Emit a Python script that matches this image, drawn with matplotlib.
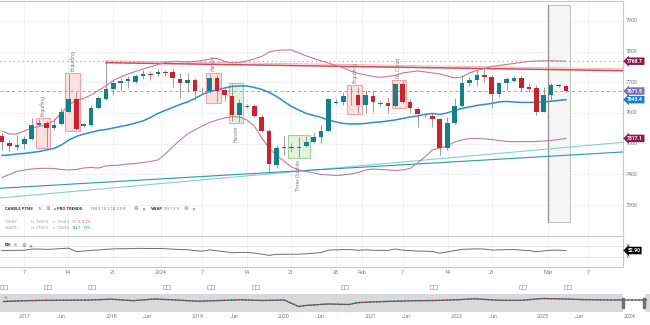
import matplotlib
matplotlib.use("Agg")
import matplotlib.pyplot as plt
from matplotlib.patches import Rectangle

W, H, DPI = 650, 325, 100

# ---- daily candles ----
opens = [7526.0, 7503.2, 7489.1, 7498.9, 7515.3, 7560.9, 7567.4, 7551.1, 7564.2, 7604.3,
         7645.7, 7557.7, 7560.9, 7616.3, 7645.7, 7678.3, 7697.8, 7704.4, 7702.1, 7720.7,
         7727.2, 7726.2, 7732.7, 7732.7, 7710.9, 7696.9, 7706.0, 7670.5, 7671.1, 7715.1,
         7673.4, 7655.5, 7591.9, 7620.6, 7622.9, 7586.0, 7542.3, 7430.5, 7484.9, 7488.2,
         7485.9, 7492.4, 7506.5, 7520.8, 7542.3, 7631.7, 7636.9, 7657.1, 7658.7, 7626.1,
         7655.5, 7629.4, 7631.7, 7623.8, 7693.6, 7634.9, 7612.1, 7592.5, 7591.2, 7579.5,
         7484.9, 7566.5, 7622.9, 7696.9, 7707.6, 7723.0, 7718.4, 7661.0, 7696.9, 7705.3,
         7715.1, 7685.8, 7680.6, 7604.3, 7658.7, 7692.0, 7688.8]
highs = [7534.8, 7512.0, 7528.3, 7525.0, 7583.7, 7580.5, 7574.0, 7583.7, 7616.3, 7727.2,
         7669.5, 7567.4, 7626.1, 7655.5, 7768.0, 7707.6, 7714.1, 7720.7, 7727.2, 7740.2,
         7737.0, 7743.5, 7740.2, 7743.5, 7730.4, 7730.4, 7714.1, 7685.8, 7728.0, 7723.9,
         7681.6, 7694.0, 7645.7, 7629.4, 7629.4, 7593.5, 7547.9, 7495.7, 7525.0, 7502.2,
         7521.8, 7524.0, 7538.1, 7560.9, 7648.9, 7645.7, 7668.5, 7688.0, 7684.8, 7675.0,
         7675.0, 7639.2, 7648.9, 7697.8, 7704.4, 7645.7, 7619.6, 7600.1, 7600.1, 7583.7,
         7587.0, 7648.9, 7723.9, 7717.4, 7740.2, 7751.0, 7723.9, 7701.1, 7718.4, 7720.7,
         7720.7, 7697.8, 7691.3, 7685.8, 7697.8, 7694.0, 7689.8]
lows = [7479.4, 7476.1, 7479.4, 7482.6, 7512.0, 7557.7, 7490.0, 7544.6, 7560.9, 7603.3,
        7544.6, 7554.4, 7557.7, 7613.1, 7642.4, 7658.7, 7675.0, 7681.6, 7697.8, 7710.9,
        7707.6, 7720.7, 7720.7, 7684.8, 7648.9, 7668.5, 7642.4, 7658.7, 7665.2, 7636.0,
        7639.2, 7574.0, 7570.7, 7616.3, 7587.0, 7538.1, 7403.0, 7420.7, 7463.1, 7472.8,
        7456.6, 7489.1, 7502.2, 7502.2, 7541.3, 7629.4, 7626.1, 7626.1, 7600.1, 7600.1,
        7604.3, 7622.9, 7600.1, 7619.6, 7632.6, 7600.1, 7554.4, 7587.0, 7554.4, 7463.1,
        7479.4, 7564.2, 7619.6, 7689.0, 7689.0, 7702.1, 7617.3, 7652.2, 7675.0, 7701.1,
        7671.8, 7666.9, 7593.5, 7604.3, 7642.4, 7686.0, 7668.0]
closes = [7505.5, 7492.4, 7495.7, 7515.3, 7560.9, 7567.4, 7551.1, 7560.9, 7604.3, 7645.7,
          7547.9, 7564.2, 7616.3, 7648.9, 7678.3, 7697.8, 7704.4, 7710.9, 7720.7, 7727.2,
          7724.6, 7734.7, 7730.4, 7712.5, 7696.9, 7706.0, 7671.8, 7672.0, 7715.1, 7671.8,
          7658.7, 7591.9, 7631.0, 7623.8, 7588.6, 7542.3, 7433.8, 7484.9, 7488.2, 7485.9,
          7488.2, 7506.5, 7522.7, 7542.3, 7644.7, 7636.9, 7655.5, 7658.7, 7626.1, 7658.7,
          7634.9, 7633.6, 7623.8, 7693.6, 7634.9, 7615.4, 7596.8, 7594.5, 7579.5, 7484.9,
          7566.5, 7622.9, 7698.8, 7707.6, 7723.0, 7718.4, 7661.0, 7696.9, 7710.9, 7715.1,
          7682.5, 7678.3, 7604.3, 7658.7, 7690.5, 7688.8, 7671.5]

# ---- bands (upper / middle / lower) ----
band_upper = [7541.3, 7531.4, 7531.4, 7541.3, 7551.1, 7556.0, 7562.6, 7574.0, 7600.1, 7626.1,
              7640.8, 7647.3, 7658.7, 7673.4, 7688.1, 7706.0, 7717.4, 7727.2, 7735.3, 7743.5,
              7750.0, 7758.2, 7764.7, 7767.9, 7767.9, 7766.3, 7767.9, 7771.2, 7776.1, 7777.7,
              7767.9, 7763.0, 7764.7, 7769.6, 7776.1, 7784.3, 7798.9, 7803.9, 7805.5, 7805.5,
              7795.7, 7785.9, 7777.7, 7769.6, 7763.0, 7754.9, 7746.8, 7737.0, 7728.8, 7723.9,
              7719.0, 7716.4, 7719.0, 7722.3, 7730.4, 7733.7, 7737.0, 7733.7, 7730.4, 7727.2,
              7720.7, 7714.1, 7717.4, 7730.4, 7738.6, 7745.1, 7751.6, 7754.9, 7758.2, 7761.4,
              7764.7, 7767.9, 7769.6, 7770.2, 7770.2, 7769.6, 7768.7]
band_mid = [7461.5, 7463.1, 7466.4, 7468.0, 7471.3, 7474.5, 7479.4, 7484.3, 7495.7, 7512.0,
            7523.4, 7531.4, 7536.5, 7542.9, 7546.2, 7551.1, 7556.0, 7560.9, 7567.4, 7574.0,
            7585.4, 7598.4, 7608.2, 7618.0, 7627.8, 7635.9, 7647.3, 7660.4, 7670.2, 7675.0,
            7681.6, 7686.4, 7688.1, 7688.1, 7683.2, 7676.7, 7666.9, 7653.9, 7637.6, 7621.3,
            7609.9, 7598.4, 7591.9, 7585.4, 7577.2, 7570.7, 7565.8, 7564.2, 7564.2, 7565.8,
            7569.1, 7570.7, 7574.0, 7577.2, 7582.1, 7587.0, 7590.3, 7595.2, 7598.4, 7595.2,
            7600.1, 7608.2, 7614.8, 7619.6, 7624.5, 7627.8, 7631.0, 7635.9, 7637.6, 7635.9,
            7634.3, 7634.3, 7634.3, 7635.9, 7638.2, 7640.8, 7643.4]
band_lower = [7389.7, 7399.5, 7409.3, 7414.2, 7417.4, 7419.1, 7419.7, 7419.1, 7415.8, 7414.2,
              7415.8, 7420.7, 7422.3, 7420.7, 7427.2, 7428.9, 7430.5, 7433.8, 7435.4, 7438.7,
              7441.9, 7446.8, 7466.4, 7489.1, 7512.0, 7531.4, 7544.6, 7557.7, 7569.1, 7577.2,
              7583.7, 7588.0, 7587.0, 7577.2, 7557.7, 7518.5, 7485.9, 7461.5, 7443.5, 7424.0,
              7414.2, 7409.3, 7404.4, 7399.5, 7397.9, 7396.3, 7397.9, 7401.2, 7406.0, 7414.2,
              7417.4, 7415.8, 7414.2, 7412.6, 7414.2, 7419.1, 7437.0, 7456.6, 7479.4, 7485.9,
              7492.4, 7505.5, 7512.0, 7516.9, 7516.9, 7515.3, 7513.6, 7510.4, 7507.1, 7506.5,
              7506.5, 7506.5, 7507.1, 7508.7, 7510.4, 7513.6, 7517.1]

# ---- RSI 14 ----
rsi = [52.8, 53.1, 53.4, 54.1, 57.6, 57.9, 56.9, 57.9, 59.7, 61.0,
       49.3, 51.0, 53.4, 54.8, 56.9, 58.6, 59.0, 59.3, 60.0, 60.3,
       59.7, 60.0, 59.3, 57.6, 55.9, 55.9, 52.4, 50.7, 55.2, 51.7,
       49.0, 44.8, 46.6, 46.2, 44.1, 40.3, 36.2, 39.7, 40.0, 40.0,
       40.3, 41.7, 43.8, 45.9, 54.1, 55.2, 56.2, 55.9, 53.8, 55.2,
       53.8, 53.4, 53.1, 57.9, 54.1, 52.8, 51.0, 50.7, 49.3, 43.8,
       48.3, 52.4, 56.9, 57.9, 58.6, 57.9, 54.5, 55.2, 55.9, 56.2,
       54.1, 53.1, 48.3, 51.7, 53.8, 54.1, 52.9]

# ---- axis ticks ----
tick_pos = [2.97, 8.9, 14.96, 21.4, 26.95, 33.0, 38.9, 45.0, 48.5, 54.0, 60.1, 66.0, 73.6, 79.0]
tick_lbl = ['7', '14', '21', '2024', '7', '14', '21', '28', 'Feb', '7', '14', '21', 'Mar', '7']
price_ticks = [7300, 7400, 7500, 7600, 7700, 7800, 7900]

# ---- candle patterns: (first, last, name, above?, bullish?) ----
patterns = [(5, 6, 'Engulfing', True, False),
            (9, 10, 'Engulfing', True, False),
            (28, 29, 'Harami', True, False),
            (31, 32, 'Harami', False, True),
            (39, 41, 'Three Outside', False, True),
            (47, 48, 'Engulfing', True, False),
            (53, 54, 'Dk Cloud', True, False)]

# ---- trend lines: (x0, y0, x1, y1) ----
res_line = (14.0, 7768.0, 83.69, 7741.9)
sup_line_a = (-0.27, 7322.9, 83.69, 7504.5)
sup_line_b = (-0.27, 7354.5, 83.69, 7472.9)
upper_level = 7768.7
last_price = 7671.5

# ---- overview (navigator) ----
nav_year = [2016.75, 2017.0, 2017.25, 2017.5, 2017.75, 2018.0, 2018.25, 2018.5, 2018.75,
            2019.0, 2019.25, 2019.5, 2019.75, 2020.0, 2020.17, 2020.25, 2020.5, 2020.75,
            2020.85, 2021.0, 2021.25, 2021.5, 2021.75, 2022.0, 2022.2, 2022.5, 2022.75,
            2023.0, 2023.25, 2023.5, 2023.75, 2024.0, 2024.2]
nav_level = [6719, 6989, 7124, 7158, 7225, 7495, 6989, 7563, 7225,
             6820, 7056, 7293, 7056, 7225, 5031, 5369, 5875, 5706,
             6314, 6550, 6786, 6989, 7056, 7293, 7630, 7124, 7124,
             7731, 7563, 7326, 7225, 7225, 7225]
nav_ticks = [2017, 2017.42, 2018, 2018.42, 2019, 2019.42, 2020, 2020.42, 2021, 2021.42,
             2022, 2022.42, 2023, 2023.42, 2024]
nav_lbl = ['2017', 'Jun', '2018', 'Jun', '2019', 'Jun', '2020', 'Jun', '2021', 'Jun',
           '2022', 'Jun', '2023', 'Jun', '2024']

TEAL = '#13808a'
RED = '#c9232d'
WICK = '#8a8a8a'
BAND = '#c27a9e'
MID = '#2b8fd3'
GRID = '#efefef'
TXT = '#7a7a7a'
FS = 3.9

plt.rcParams['font.family'] = ['Roboto', 'DejaVu Sans']

fig = plt.figure(figsize=(W / DPI, H / DPI), dpi=DPI)
fig.patch.set_facecolor('white')


def fx(x):
    return x / W


def fy(y):
    return 1 - y / H


def ptext(x, y, s, **kw):
    kw.setdefault('fontsize', FS)
    kw.setdefault('color', TXT)
    kw.setdefault('va', 'center')
    kw.setdefault('ha', 'left')
    fig.text(fx(x), fy(y), s, **kw)


XLIM = (-0.27, 83.69)

# ================= main price panel =================
ax = fig.add_axes([0, fy(236), fx(623), (236 - 1) / H])
ax.set_xlim(*XLIM)
ax.set_ylim(7199, 7965)
for s in ['left', 'bottom']:
    ax.spines[s].set_visible(False)
for s in ['top', 'right']:
    ax.spines[s].set_color('#c8c8c8')
    ax.spines[s].set_linewidth(0.8)
ax.set_xticks([])
ax.set_yticks([])
for p in price_ticks:
    ax.axhline(p, color=GRID, lw=0.6, zorder=0)
for t in tick_pos:
    ax.axvline(t, color=GRID, lw=0.6, zorder=0)

# highlighted range on the right
x_hl0, x_hl1 = 73.55, 76.55
ax.add_patch(Rectangle((x_hl0, 7245.6), x_hl1 - x_hl0, 7953.2 - 7245.6,
                       facecolor='#f5f5f5', edgecolor='#b5b5b5', lw=0.6, zorder=0.5))
ax.plot([x_hl0, x_hl0], [7245.6, 7953.2], color='#8f8f8f', lw=0.9, zorder=0.6)

# candle pattern boxes and names
for i0, i1, name, above, bull in patterns:
    top = max(highs[i0:i1 + 1]) + 3
    bot = min(lows[i0:i1 + 1]) - 3
    fc, ec = ('#e3f2dc', '#9fd39a') if bull else ('#fbe1e1', '#f2a4a4')
    ax.add_patch(Rectangle((i0 - 0.47, bot), (i1 - i0) + 0.94, top - bot,
                           facecolor=fc, edgecolor=ec, lw=0.8, zorder=1))
    xc = (i0 + i1) / 2
    if above:
        ax.text(xc, top + 6, name, rotation=90, fontsize=3.6, color='#888888',
                ha='center', va='bottom', zorder=5)
    else:
        ax.text(xc, bot - 8, name, rotation=90, fontsize=3.6, color='#888888',
                ha='center', va='top', zorder=5)

# support / resistance lines
ax.plot([sup_line_a[0], sup_line_a[2]], [sup_line_a[1], sup_line_a[3]], color='#86cfd4', lw=0.8, zorder=2)
ax.plot([sup_line_b[0], sup_line_b[2]], [sup_line_b[1], sup_line_b[3]], color='#2a9aa0', lw=0.8, zorder=2)
ax.plot([res_line[0], res_line[2]], [res_line[1] + 2, res_line[3] + 2], color='#eeaaaa', lw=0.6, zorder=2)
ax.plot([res_line[0], res_line[2]], [res_line[1] - 4, res_line[3] - 4], color='#d9474f', lw=1.1, zorder=2)
ax.axhline(upper_level, color='#d57a9a', lw=0.8, ls=(0, (1, 3)), zorder=2)
ax.axhline(last_price, color='#a99ad0', lw=0.7, ls=(0, (3, 3)), zorder=2)

# bands
xs = list(range(len(closes)))
ax.plot(xs, band_upper, color=BAND, lw=0.8, zorder=3)
ax.plot(xs, band_lower, color=BAND, lw=0.8, zorder=3)
ax.plot(xs, band_mid, color=MID, lw=1.1, zorder=3)

# candles
for i, (o, h, l, c) in enumerate(zip(opens, highs, lows, closes)):
    col = TEAL if c >= o else RED
    ax.vlines(i, l, h, color=WICK, lw=0.6, zorder=4)
    body = abs(c - o)
    ax.bar(i, max(body, 1.8), bottom=min(o, c) if body >= 1.8 else (o + c) / 2 - 0.9,
           width=0.62, color=col, lw=0, zorder=5)

# price scale labels
for p in price_ticks:
    ax.text(1.005, p, f'{p}', transform=ax.get_yaxis_transform(), fontsize=FS,
            color=TXT, ha='left', va='center', clip_on=False)

# value badges
badges = [(upper_level, '#8c1b4b'), (last_price, '#7d6db8'), (band_mid[-1], '#1c80c6'),
          (band_lower[-1], '#8c1b4b')]
for val, col in badges:
    ax.text(1.007, val, f'{val:.1f}', transform=ax.get_yaxis_transform(), fontsize=3.6,
            color='white', ha='left', va='center', clip_on=False, zorder=10, weight='bold',
            bbox=dict(boxstyle='larrow,pad=0.25', fc=col, ec='none'))

# ================= RSI panel =================
ar = fig.add_axes([0, fy(267), fx(623), 31 / H])
ar.set_xlim(*XLIM)
ar.set_ylim(-4, 103)
ar.spines['left'].set_visible(False)
for s in ['top', 'right', 'bottom']:
    ar.spines[s].set_color('#c8c8c8')
    ar.spines[s].set_linewidth(0.8)
ar.axhline(70, color='#e2e2e2', lw=0.6)
ar.axhline(30, color='#e2e2e2', lw=0.6)
for t in tick_pos:
    ar.axvline(t, color=GRID, lw=0.6, zorder=0)
ar.plot(xs, rsi, color='#6e6e6e', lw=0.7)
ar.set_yticks([])
ar.set_xticks(tick_pos)
ar.set_xticklabels(tick_lbl, fontsize=FS, color=TXT)
ar.tick_params(axis='x', length=0, pad=2.0)
for lv in (70, 30):
    ar.text(1.004, lv, str(lv), transform=ar.get_yaxis_transform(), fontsize=3.0,
            color=TXT, ha='left', va='center', clip_on=False)
ar.text(1.007, rsi[-1], f'{rsi[-1]:.2f}', transform=ar.get_yaxis_transform(), fontsize=3.6,
        color='white', ha='left', va='center', clip_on=False, weight='bold',
        bbox=dict(boxstyle='larrow,pad=0.25', fc='black', ec='none'))

# ================= indicator legend =================
SYM = ['DejaVu Sans']
LF = 3.1
ptext(5, 209, 'CANDLE PTNS', fontsize=LF, color='#333333', weight='bold')
ptext(37.5, 209, '12', fontsize=LF)
ptext(45, 209, '⚙', fontsize=3.8, family=SYM, color='#666666')
ptext(52, 209, '✕', fontsize=3.4, family=SYM, color='#666666')
ptext(57, 209, 'PRO TRENDS', fontsize=LF, color='#333333', weight='bold')
ptext(90.5, 209, '150 3 10 2 14 2 3 8', fontsize=LF)
ptext(134, 209, '⚙', fontsize=3.8, family=SYM, color='#666666')
ptext(141.5, 209, '✕', fontsize=3.4, family=SYM, color='#666666')
ptext(150.5, 209, 'VWAP', fontsize=LF, color='#333333', weight='bold')
ptext(164.5, 209, '20 1 2 3', fontsize=LF)
ptext(184, 209, '⚙', fontsize=3.8, family=SYM, color='#666666')
ptext(191.5, 209, '✕', fontsize=3.4, family=SYM, color='#666666')

TF = 2.9
ptext(5, 221.7, 'TODAY:', fontsize=TF, color='#a0a0a0')
ptext(31.5, 221.7, 'H: 7689.8', fontsize=TF, color='#a0a0a0')
ptext(53, 221.7, 'L: 7668.0', fontsize=TF, color='#a0a0a0')
ptext(71.5, 221.7, '-17.3', fontsize=TF, color='#d9534f')
ptext(82, 221.7, '-0.2%', fontsize=TF, color='#d9534f')
ptext(5, 228.3, 'CHART:', fontsize=TF, color='#a0a0a0')
ptext(31.5, 228.3, 'H: 7768.0', fontsize=TF, color='#a0a0a0')
ptext(53, 228.3, 'L: 7403.0', fontsize=TF, color='#a0a0a0')
ptext(71.5, 228.3, '144.1', fontsize=TF, color='#1b9aa0')
ptext(83, 228.3, '1.9%', fontsize=TF, color='#1b9aa0')

ptext(4.5, 245.5, 'RSI', fontsize=LF, color='#333333', weight='bold')
ptext(13, 245.5, '14', fontsize=LF)
ptext(21, 245.5, '⚙', fontsize=3.8, family=SYM, color='#666666')
ptext(28, 245.5, '✕', fontsize=3.4, family=SYM, color='#666666')

# event markers row
for xc in [3, 47, 91, 166, 211, 255, 344, 433, 522, 567]:
    fig.patches.append(Rectangle((fx(xc - 3.5), fy(289)), 7 / W, 4 / H, transform=fig.transFigure,
                                 facecolor='white', edgecolor='#a8a8a8', lw=0.5))
    fig.lines.append(plt.Line2D([fx(xc), fx(xc)], [fy(289), fy(285)], transform=fig.transFigure,
                                color='#a8a8a8', lw=0.5))

# ================= overview navigator =================
an = fig.add_axes([0, fy(312), 1, 18 / H])
an.set_xlim(2016.71, 2024.24)
an.set_ylim(3175, 9250)
an.set_facecolor('#d9d9d9')
for s in an.spines.values():
    s.set_visible(False)
an.axvspan(2023.93, 2024.17, color='white', zorder=1)
for xe in (2023.93, 2024.17):
    an.axvspan(xe - 0.012, xe + 0.012, ymin=0.2, ymax=0.8, color='#6f6f6f', zorder=3)
an.plot(nav_year, nav_level, color=TEAL, lw=0.9, zorder=2)
an.plot(nav_year, nav_level, color=RED, lw=0.9, ls=(0, (1.2, 1.6)), zorder=2)
an.set_yticks([])
an.set_xticks(nav_ticks)
an.set_xticklabels(nav_lbl, fontsize=FS, color=TXT)
an.tick_params(axis='x', length=0, pad=1.5)
an.text(0.006, 0.78, '✕', transform=an.transAxes, fontsize=3.2, color='#555555',
        family=SYM, va='center')

fig.savefig('out.png', dpi=DPI, facecolor='white')
